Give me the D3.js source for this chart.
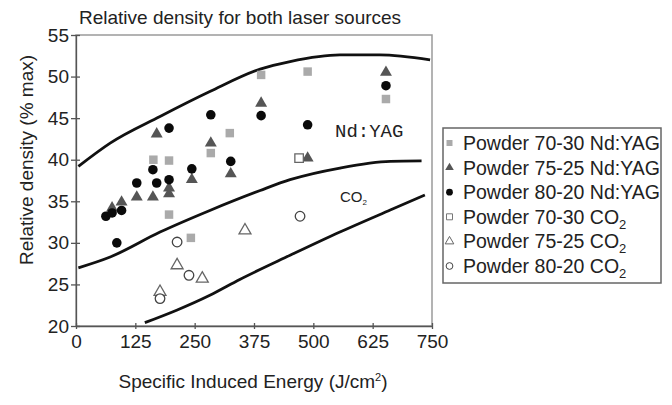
<!DOCTYPE html>
<html>
<head>
<meta charset="utf-8">
<script src="https://cdn.jsdelivr.net/npm/d3@7"></script>
<style>
  body { margin: 0; background: #fff; }
  text { font-family: Arial, "Liberation Sans", sans-serif; fill: #222; }
</style>
</head>
<body>
<svg id="chart" width="672" height="405"></svg>
<script>
// values
var xTicks = [0, 125, 250, 375, 500, 625, 750];
var yTicks = [20, 25, 30, 35, 40, 45, 50, 55];

var yag7030 = [[163, 40.0], [196, 39.9], [196, 33.4], [242, 30.6], [284, 40.8], [324, 43.2], [390, 50.2], [488, 50.6], [653, 47.3]];
var yag7525 = [[76, 34.2], [96, 34.9], [128, 35.5], [162, 35.5], [170, 43.1], [196, 36.6], [196, 35.9], [244, 37.6], [284, 42.0], [326, 38.3], [390, 46.8], [488, 40.2], [653, 50.5]];
var yag8020 = [[63, 33.2], [76, 33.6], [96, 33.9], [86, 30.0], [128, 37.2], [162, 38.8], [170, 37.2], [196, 43.8], [196, 37.6], [244, 38.9], [284, 45.4], [326, 39.8], [390, 45.3], [488, 44.2], [653, 48.9]];
var co27030 = [[470, 40.2]];
var co27525 = [[177, 24.1], [213, 27.3], [266, 25.7], [356, 31.5]];
var co28020 = [[177, 23.3], [213, 30.1], [238, 26.1], [472, 33.2]];

// band boundaries
var yagUpper = [[5, 39.2], [72, 42.0], [177, 45.2], [282, 48.2], [388, 50.9], [451, 51.8], [556, 52.6], [640, 52.6], [746, 52.0]];
var middleLine = [[5, 27.0], [72, 28.3], [177, 31.3], [282, 33.9], [388, 36.3], [451, 37.6], [556, 39.0], [662, 39.8], [728, 39.85]];
var co2Lower = [[145, 20.4], [212, 21.9], [282, 23.7], [345, 25.6], [451, 28.5], [556, 31.3], [662, 33.95], [735, 35.75]];

var legendNames = ["Powder 70-30 Nd:YAG", "Powder 75-25 Nd:YAG", "Powder 80-20 Nd:YAG", "Powder 70-30 CO", "Powder 75-25 CO", "Powder 80-20 CO"];

var svg = d3.select("#chart");
var x = d3.scaleLinear().domain([0, 750]).range([76, 432]);
var y = d3.scaleLinear().domain([20, 55]).range([326, 35]);

// frame
svg.append("rect")
  .attr("x", x(0)).attr("y", y(55))
  .attr("width", x(750) - x(0)).attr("height", y(20) - y(55))
  .attr("fill", "none").attr("stroke", "#9a9a9a").attr("stroke-width", 1.5);

// axes
var xAxis = svg.append("g")
  .attr("transform", "translate(0," + y(20) + ")")
  .call(d3.axisBottom(x).tickValues(xTicks).tickSize(3).tickSizeOuter(0).tickPadding(6));
xAxis.selectAll(".tick line").attr("y1", -3).attr("y2", 3);
var yAxis = svg.append("g")
  .attr("transform", "translate(" + x(0) + ",0)")
  .call(d3.axisLeft(y).tickValues(yTicks).tickSize(4).tickSizeOuter(0).tickPadding(3));
yAxis.selectAll(".tick line").attr("x1", -5).attr("x2", 4);
svg.selectAll(".domain, .tick line").attr("stroke", "#555").attr("stroke-width", 1.3);
svg.selectAll(".tick text").style("font-size", "19px").style("font-family", "Arial, 'Liberation Sans', sans-serif").attr("fill", "#222");

// curves
var line = d3.line()
  .x(function(d) { return x(d[0]); })
  .y(function(d) { return y(d[1]); })
  .curve(d3.curveMonotoneX);
[yagUpper, middleLine, co2Lower].forEach(function(c) {
  svg.append("path").attr("d", line(c))
    .attr("fill", "none").attr("stroke", "#111").attr("stroke-width", 2.8);
});

// markers
function drawSeries(data, type, fill, stroke) {
  var sym = type === "square" ? d3.symbolSquare : type === "triangle" ? d3.symbolTriangle : d3.symbolCircle;
  var size = type === "square" ? 72 : type === "triangle" ? 62 : 72;
  svg.append("g").selectAll("path")
    .data(data)
    .enter().append("path")
    .attr("d", d3.symbol().type(sym).size(size))
    .attr("transform", function(d) { return "translate(" + x(d[0]) + "," + y(d[1]) + ")"; })
    .attr("fill", fill)
    .attr("stroke", stroke)
    .attr("stroke-width", stroke === "none" ? 0 : 1.3);
}
drawSeries(yag7030, "square", "#aaaaaa", "none");
drawSeries(yag7525, "triangle", "#555555", "none");
drawSeries(yag8020, "circle", "#0a0a0a", "none");
drawSeries(co27030, "square", "#fff", "#666");
drawSeries(co27525, "triangle", "#fff", "#666");
drawSeries(co28020, "circle", "#fff", "#444");

// band labels
svg.append("text").attr("x", 335).attr("y", 137)
  .style("font-family", "'Liberation Mono', 'Courier New', monospace").style("font-size", "19px")
  .attr("fill", "#555").text("Nd:YAG");
var co2Label = svg.append("text").attr("x", 340).attr("y", 202)
  .style("font-size", "15px").attr("fill", "#555");
co2Label.append("tspan").text("CO");
co2Label.append("tspan").attr("dy", 3).style("font-size", "8px").text("2");

// title and axis titles
svg.append("text").attr("x", 79).attr("y", 24).style("font-size", "19px").text("Relative density for both laser sources");
var xl = svg.append("text").attr("x", 253).attr("y", 388).attr("text-anchor", "middle").style("font-size", "19px");
xl.append("tspan").text("Specific Induced Energy (J/cm");
xl.append("tspan").attr("dy", -7).style("font-size", "11px").text("2");
xl.append("tspan").attr("dy", 7).text(")");
svg.append("text")
  .attr("transform", "translate(33,160) rotate(-90)")
  .attr("text-anchor", "middle").style("font-size", "19px")
  .text("Relative density (% max)");

// legend
var lg = svg.append("g").attr("transform", "translate(443,128)");
lg.append("rect").attr("width", 218).attr("height", 155)
  .attr("fill", "#fff").attr("stroke", "#666").attr("stroke-width", 1.5);
var legendStyle = [
  ["square", "#aaaaaa", "none"], ["triangle", "#555555", "none"], ["circle", "#0a0a0a", "none"],
  ["square", "#fff", "#777"], ["triangle", "#fff", "#666"], ["circle", "#fff", "#444"]
];
legendNames.forEach(function(name, i) {
  var row = lg.append("g").attr("transform", "translate(0," + (15 + i * 24.6) + ")");
  var st = legendStyle[i];
  var sym = st[0] === "square" ? d3.symbolSquare : st[0] === "triangle" ? d3.symbolTriangle : d3.symbolCircle;
  row.append("path").attr("transform", "translate(6.5,0)")
    .attr("d", d3.symbol().type(sym).size(st[0] === "triangle" ? 32 : 36))
    .attr("fill", st[1]).attr("stroke", st[2]).attr("stroke-width", st[2] === "none" ? 0 : 1);
  var t = row.append("text").attr("x", 20).attr("y", 7).style("font-size", "19.5px").attr("fill", "#222");
  t.append("tspan").text(name);
  if (i > 2) {
    t.append("tspan").attr("dy", 5).style("font-size", "13px").text("2");
  }
});
</script>
</body>
</html>
